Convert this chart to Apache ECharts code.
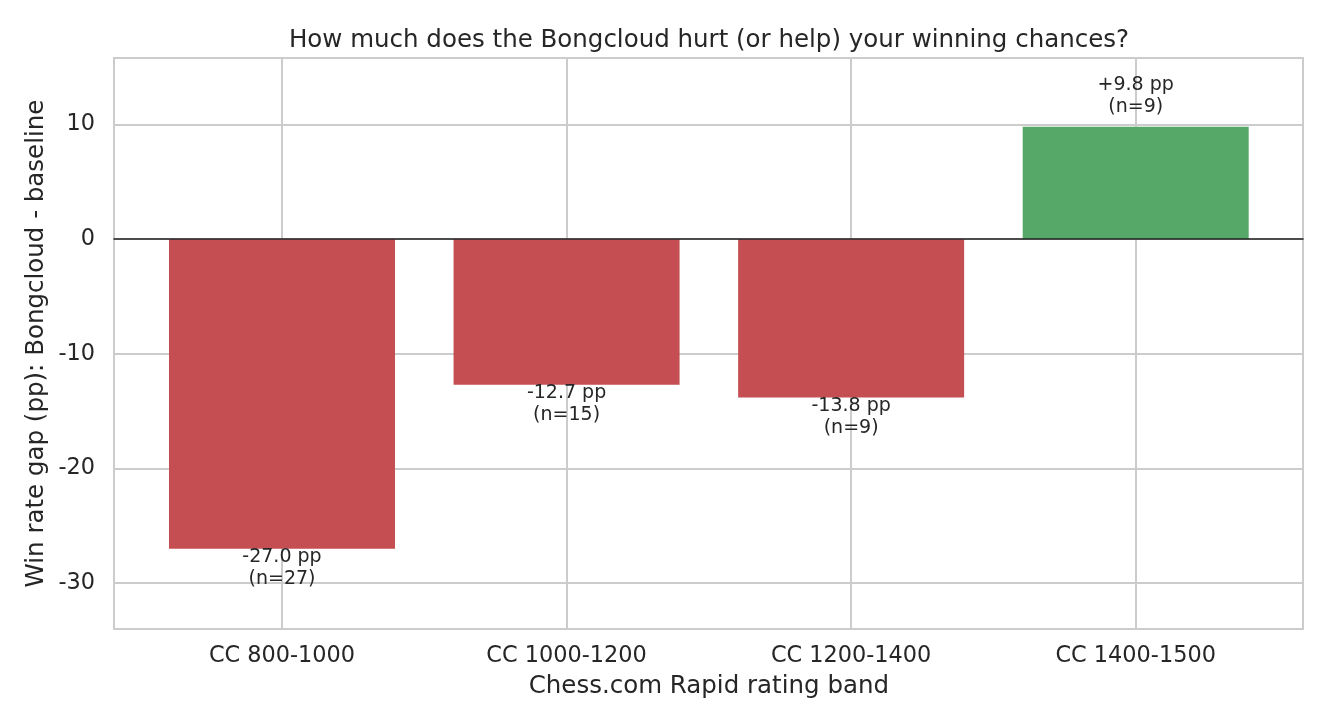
<!DOCTYPE html>
<html>
<head>
<meta charset="utf-8">
<script src="https://cdn.jsdelivr.net/npm/echarts@6/dist/echarts.min.js"></script>
<style>
html,body{margin:0;padding:0;background:#fff;}
#chart{width:1330px;height:728px;}
</style>
</head>
<body>
<div id="chart"></div>
<script>
const categories = ['CC 800-1000', 'CC 1000-1200', 'CC 1200-1400', 'CC 1400-1500'];
const gapValues = [-27.0, -12.7, -13.8, 9.8];
const sampleSizes = [27, 15, 9, 9];
const yTicks = [-30, -20, -10, 0, 10];

const RED = '#C44E52', GREEN = '#55A868', TXT = '#262626', GRID = '#cccccc';
const FONT = 'DejaVu Sans';
const Y_MIN = -34, Y_MAX = 15.8;

function fmtGap(v) {
  return (v > 0 ? '+' : '') + v.toFixed(1) + ' pp';
}

const chart = echarts.init(document.getElementById('chart'), null, {renderer: 'canvas'});
chart.setOption({
  backgroundColor: '#ffffff',
  animation: false,
  title: {
    text: 'How much does the Bongcloud hurt (or help) your winning chances?',
    left: 704, top: 23, textAlign: 'center',
    textStyle: {fontFamily: FONT, fontSize: 24.5, fontWeight: 'normal', color: TXT}
  },
  grid: [
    {left: 114, right: 27, top: 58, bottom: 99, show: true, borderColor: GRID, borderWidth: 2, backgroundColor: '#fff'},
    {left: 282, right: 194.3, top: 58, bottom: 99}
  ],
  xAxis: [
    {gridIndex: 0, type: 'value', min: 0, max: 1, z: 5,
     axisLine: {show: true, onZero: true, lineStyle: {color: '#222', width: 1.6}},
     axisTick: {show: false}, axisLabel: {show: false}, splitLine: {show: false}},
    {gridIndex: 1, type: 'value', min: 0, max: categories.length - 1, interval: 1,
     axisLine: {show: false}, axisTick: {show: false},
     splitLine: {show: true, lineStyle: {color: GRID, width: 2}},
     axisLabel: {fontFamily: FONT, fontSize: 22.4, color: TXT, margin: 16,
       formatter: v => categories[Math.round(v)] || ''},
     name: 'Chess.com Rapid rating band', nameLocation: 'middle', nameGap: 45,
     nameTextStyle: {fontFamily: FONT, fontSize: 24.5, color: TXT}}
  ],
  yAxis: [
    {gridIndex: 0, type: 'value', min: Y_MIN, max: Y_MAX, splitNumber: 5,
     axisLine: {show: false}, axisTick: {show: false},
     splitLine: {show: true, lineStyle: {color: GRID, width: 2}},
     axisLabel: {fontFamily: FONT, fontSize: 22.4, color: TXT, margin: 19,
       showMinLabel: false, showMaxLabel: false,
       formatter: v => (yTicks.indexOf(Math.round(v)) >= 0 && Math.abs(v - Math.round(v)) < 1e-6) ? String(Math.round(v)) : ''},
     name: 'Win rate gap (pp): Bongcloud - baseline', nameLocation: 'middle', nameGap: 65,
     nameMoveOverlap: false,
     nameTextStyle: {fontFamily: FONT, fontSize: 24.5, color: TXT}},
    {gridIndex: 1, type: 'value', min: Y_MIN, max: Y_MAX, show: false,
     splitLine: {show: false}}
  ],
  series: [
    {
      type: 'bar', xAxisIndex: 1, yAxisIndex: 1, barWidth: 226, clip: false, z: 2,
      data: gapValues.map((v, i) => ({value: [i, v], itemStyle: {color: v < 0 ? RED : GREEN}}))
    },
    {
      type: 'scatter', xAxisIndex: 1, yAxisIndex: 1, symbol: 'circle', symbolSize: 1, z: 4,
      itemStyle: {color: 'rgba(0,0,0,0)', opacity: 1},
      silent: true,
      data: gapValues.map((v, i) => ({
        value: [i, v],
        label: {
          show: true,
          position: v < 0 ? 'bottom' : 'top',
          distance: v < 0 ? -3 : 8,
          formatter: fmtGap(v) + '\n(n=' + sampleSizes[i] + ')',
          fontFamily: FONT, fontSize: 19, lineHeight: 22, color: TXT, opacity: 1, align: 'center'
        }
      }))
    }
  ]
});
</script>
</body>
</html>
